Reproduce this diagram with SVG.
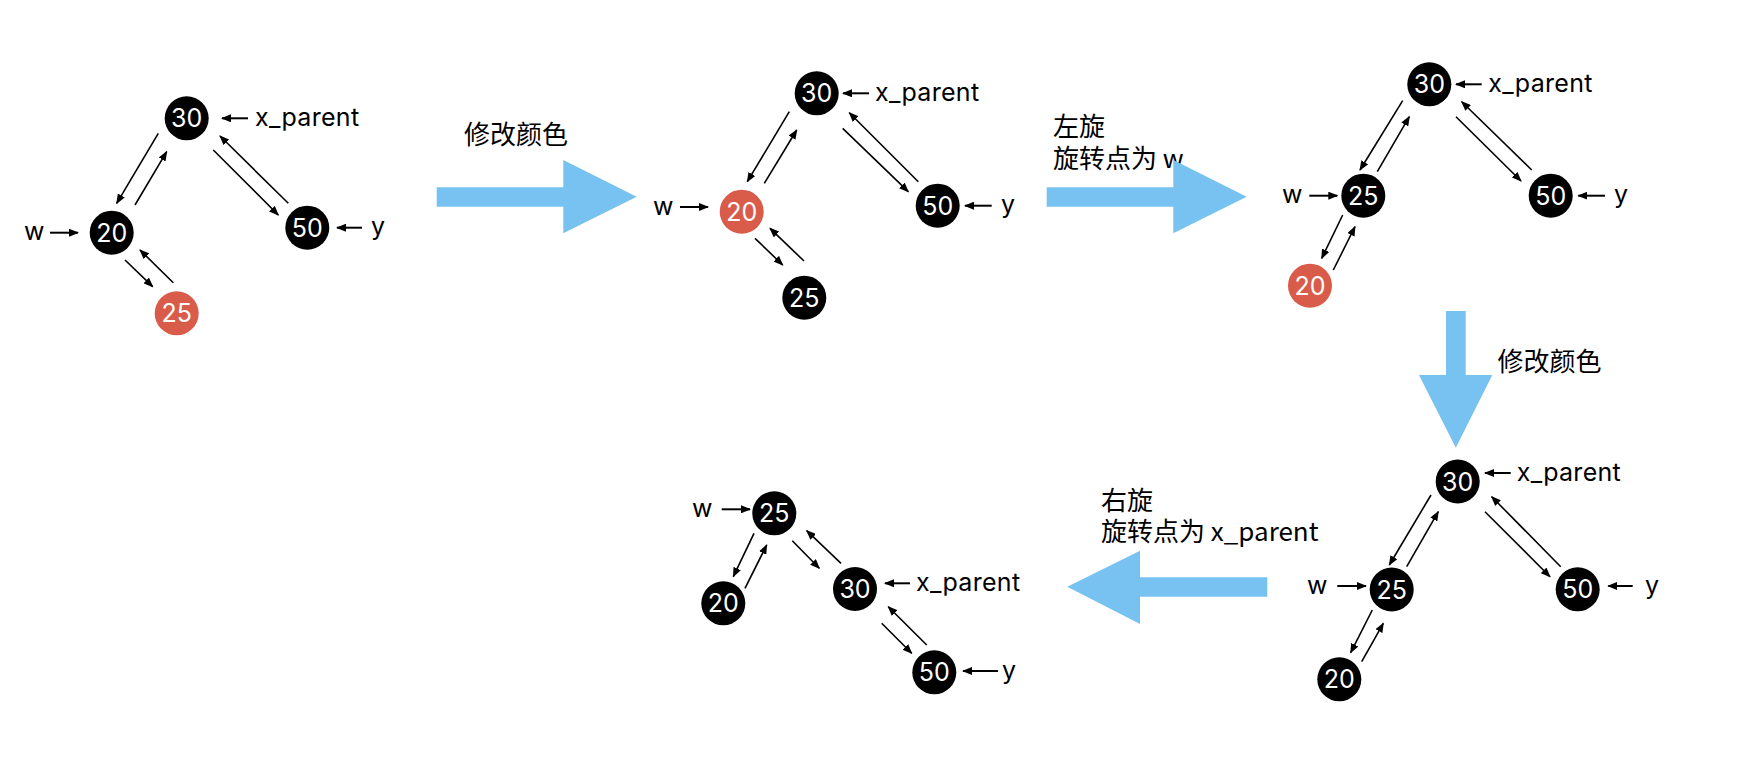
<svg xmlns="http://www.w3.org/2000/svg" width="1742" height="764" viewBox="0 0 1742 764">
<style>
.b{fill:#000}
.r{fill:#D95B49}
.num{fill:#fff;font-family:Inter,"Liberation Sans",sans-serif;font-size:25px;text-anchor:middle;dominant-baseline:central}
.lbl{fill:#000;font-family:Inter,"Liberation Sans",sans-serif;font-size:25px;letter-spacing:0.3px}
.cjk{fill:#000;font-family:"Noto Sans CJK SC",Inter,sans-serif;font-size:26px}
.e{stroke:#000;stroke-width:1.6;fill:none;marker-end:url(#ah)}
.p{stroke:#000;stroke-width:2;fill:none;marker-end:url(#ah)}
.big{fill:#77C2F0}
</style>
<defs>
<marker id="ah" viewBox="0 0 10 8" refX="9" refY="4" markerWidth="10" markerHeight="8" markerUnits="userSpaceOnUse" orient="auto">
<path d="M0,0 L10,4 L0,8 z" fill="#000"/>
</marker>
</defs>
<rect width="1742" height="764" fill="#fff"/>

<g id="connectors">
<!-- tree 1 -->
<line class="e" x1="158.3" y1="133.3" x2="116.7" y2="203.3"/>
<line class="e" x1="135" y1="205" x2="166.7" y2="151.7"/>
<line class="e" x1="213.3" y1="150" x2="278.3" y2="215"/>
<line class="e" x1="288.3" y1="203.3" x2="220" y2="136"/>
<line class="e" x1="125" y1="260" x2="152.7" y2="286.7"/>
<line class="e" x1="173.3" y1="282.7" x2="140" y2="250"/>
<line class="p" x1="248" y1="118.3" x2="222" y2="118.3"/>
<line class="p" x1="50" y1="232.7" x2="78" y2="232.7"/>
<line class="p" x1="362" y1="227.7" x2="337" y2="227.7"/>
<!-- tree 2 -->
<line class="e" x1="789.3" y1="111.7" x2="747.3" y2="181.7"/>
<line class="e" x1="764.3" y1="183.3" x2="796.7" y2="130"/>
<line class="e" x1="842.7" y1="128.3" x2="908.3" y2="191.7"/>
<line class="e" x1="918.3" y1="181.7" x2="849.3" y2="112.7"/>
<line class="e" x1="755" y1="238.3" x2="782.7" y2="265"/>
<line class="e" x1="804" y1="261" x2="770" y2="228.3"/>
<line class="p" x1="869" y1="93.3" x2="843" y2="93.3"/>
<line class="p" x1="680" y1="207" x2="708" y2="207"/>
<line class="p" x1="991.7" y1="205.7" x2="965" y2="205.7"/>
<!-- tree 3 -->
<line class="e" x1="1402.7" y1="100.7" x2="1360" y2="170"/>
<line class="e" x1="1377.3" y1="171.7" x2="1409.3" y2="116.7"/>
<line class="e" x1="1456" y1="116.7" x2="1521" y2="181"/>
<line class="e" x1="1531.7" y1="170" x2="1461.7" y2="101.7"/>
<line class="e" x1="1342.7" y1="215" x2="1321.7" y2="258.3"/>
<line class="e" x1="1333.3" y1="270" x2="1355" y2="226.7"/>
<line class="p" x1="1481.7" y1="84.3" x2="1456" y2="84.3"/>
<line class="p" x1="1309.3" y1="195.7" x2="1337.3" y2="195.7"/>
<line class="p" x1="1605" y1="195.7" x2="1578.3" y2="195.7"/>
<!-- tree 4 -->
<line class="e" x1="1431" y1="495" x2="1389.3" y2="565"/>
<line class="e" x1="1406.7" y1="566.7" x2="1438.3" y2="511.7"/>
<line class="e" x1="1485" y1="511.7" x2="1550" y2="576.7"/>
<line class="e" x1="1560.7" y1="566.7" x2="1491.7" y2="496.7"/>
<line class="e" x1="1372.3" y1="610" x2="1350.7" y2="652.7"/>
<line class="e" x1="1361.7" y1="661.7" x2="1383.3" y2="623.3"/>
<line class="p" x1="1510.7" y1="473" x2="1485" y2="473"/>
<line class="p" x1="1337.3" y1="586" x2="1366" y2="586"/>
<line class="p" x1="1632.7" y1="586" x2="1608.3" y2="586"/>
<!-- tree 5 -->
<line class="e" x1="754" y1="533.3" x2="733.3" y2="576.7"/>
<line class="e" x1="745" y1="588.3" x2="766.7" y2="545"/>
<line class="e" x1="792.3" y1="540.7" x2="819.3" y2="568.3"/>
<line class="e" x1="841" y1="563.3" x2="806.7" y2="530.7"/>
<line class="e" x1="881.7" y1="623.3" x2="911.7" y2="653.3"/>
<line class="e" x1="926.7" y1="645" x2="888.3" y2="606.7"/>
<line class="p" x1="721.7" y1="509.3" x2="750" y2="509.3"/>
<line class="p" x1="910" y1="583.3" x2="885" y2="583.3"/>
<line class="p" x1="998" y1="671" x2="963" y2="671"/>
</g>

<g id="tree1">
<g id="t1-30"><circle class="b" cx="186.7" cy="118.3" r="22"/><text class="num" x="186.7" y="118.3">30</text></g>
<g id="t1-20"><circle class="b" cx="111.7" cy="232.7" r="22"/><text class="num" x="111.7" y="232.7">20</text></g>
<g id="t1-50"><circle class="b" cx="307.3" cy="227.7" r="22"/><text class="num" x="307.3" y="227.7">50</text></g>
<g id="t1-25"><circle class="r" cx="176.7" cy="313.3" r="22"/><text class="num" x="176.7" y="313.3">25</text></g>
<text class="lbl" x="255" y="125.8">x_parent</text>
<text class="lbl" x="24" y="240">w</text>
<text class="lbl" x="371" y="235">y</text>
</g>

<g id="tree2">
<g id="t2-30"><circle class="b" cx="816.7" cy="93.3" r="22"/><text class="num" x="816.7" y="93.3">30</text></g>
<g id="t2-20"><circle class="r" cx="741.7" cy="211.7" r="22"/><text class="num" x="741.7" y="211.7">20</text></g>
<g id="t2-50"><circle class="b" cx="937.7" cy="205.7" r="22"/><text class="num" x="937.7" y="205.7">50</text></g>
<g id="t2-25"><circle class="b" cx="804.3" cy="297.7" r="22"/><text class="num" x="804.3" y="297.7">25</text></g>
<text class="lbl" x="875" y="100.8">x_parent</text>
<text class="lbl" x="653" y="214.5">w</text>
<text class="lbl" x="1001" y="213">y</text>
</g>

<g id="tree3">
<g id="t3-30"><circle class="b" cx="1429.3" cy="84.3" r="22"/><text class="num" x="1429.3" y="84.3">30</text></g>
<g id="t3-25"><circle class="b" cx="1363.3" cy="195.7" r="22"/><text class="num" x="1363.3" y="195.7">25</text></g>
<g id="t3-50"><circle class="b" cx="1550.7" cy="195.7" r="22"/><text class="num" x="1550.7" y="195.7">50</text></g>
<g id="t3-20"><circle class="r" cx="1310" cy="285.7" r="22"/><text class="num" x="1310" y="285.7">20</text></g>
<text class="lbl" x="1488.3" y="91.8">x_parent</text>
<text class="lbl" x="1282" y="203.2">w</text>
<text class="lbl" x="1614" y="203">y</text>
</g>

<g id="tree4">
<g id="t4-30"><circle class="b" cx="1457.7" cy="481.5" r="22"/><text class="num" x="1457.7" y="481.5">30</text></g>
<g id="t4-25"><circle class="b" cx="1391.7" cy="589.5" r="22"/><text class="num" x="1391.7" y="589.5">25</text></g>
<g id="t4-50"><circle class="b" cx="1577.7" cy="589.3" r="22"/><text class="num" x="1577.7" y="589.3">50</text></g>
<g id="t4-20"><circle class="b" cx="1339.3" cy="679.3" r="22"/><text class="num" x="1339.3" y="679.3">20</text></g>
<text class="lbl" x="1516.7" y="480.5">x_parent</text>
<text class="lbl" x="1307" y="593.5">w</text>
<text class="lbl" x="1645" y="593.5">y</text>
</g>

<g id="tree5">
<g id="t5-25"><circle class="b" cx="774.3" cy="513.3" r="22"/><text class="num" x="774.3" y="513.3">25</text></g>
<g id="t5-20"><circle class="b" cx="723.3" cy="603.3" r="22"/><text class="num" x="723.3" y="603.3">20</text></g>
<g id="t5-30"><circle class="b" cx="855" cy="589" r="22"/><text class="num" x="855" y="589">30</text></g>
<g id="t5-50"><circle class="b" cx="934.3" cy="672.3" r="22"/><text class="num" x="934.3" y="672.3">50</text></g>
<text class="lbl" x="692" y="516.8">w</text>
<text class="lbl" x="916" y="590.8">x_parent</text>
<text class="lbl" x="1002" y="678.5">y</text>
</g>

<g id="step1">
<path class="big" d="M436.7,187.3 H563.3 V160 L636.7,196.7 L563.3,233.3 V206.7 H436.7 Z"/>
<text class="cjk" x="464" y="144">修改颜色</text>
</g>
<g id="step2">
<text class="cjk"><tspan x="1053" y="136">左旋</tspan><tspan x="1053" y="168">旋转点为 w</tspan></text>
<path class="big" d="M1046.7,187.3 H1173.3 V160 L1246.7,196.7 L1173.3,233.3 V206.7 H1046.7 Z"/>
</g>
<g id="step3">
<path class="big" d="M1446,311 H1465.7 V375 H1492.3 L1455.8,447.7 L1419,375 H1446 Z"/>
<text class="cjk" x="1497.5" y="371">修改颜色</text>
</g>
<g id="step4">
<text class="cjk"><tspan x="1101" y="510">右旋</tspan><tspan x="1101" y="541">旋转点为 x_parent</tspan></text>
<path class="big" d="M1267.3,577.3 H1140 V550.7 L1067.3,586.7 L1140,624 V596.7 H1267.3 Z"/>
</g>
</svg>
